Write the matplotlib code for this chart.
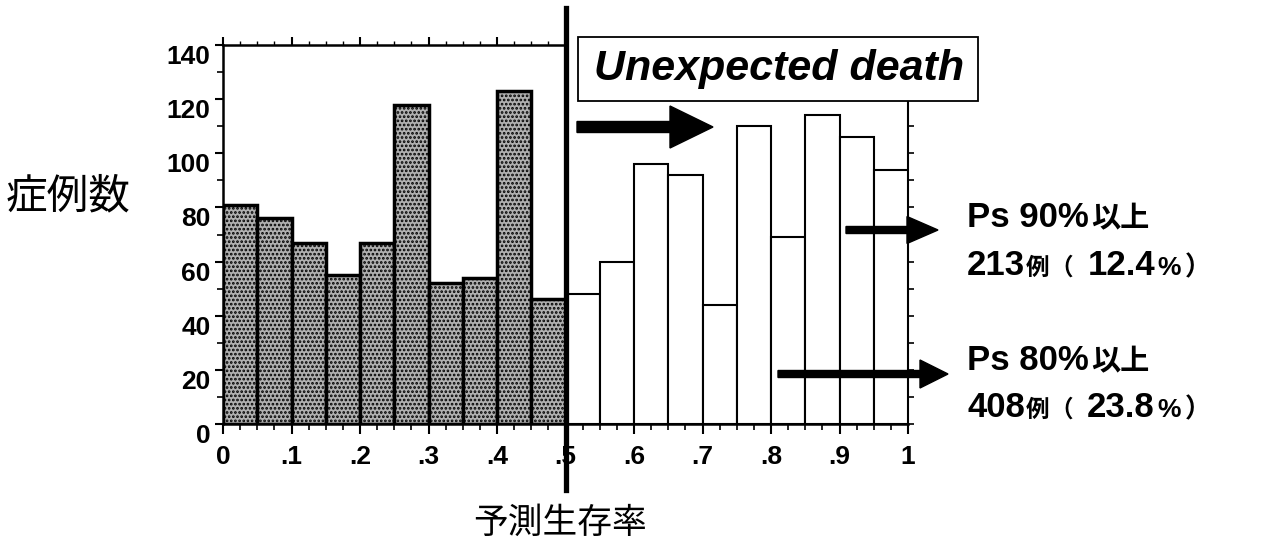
import matplotlib
matplotlib.use('Agg')
import matplotlib.pyplot as plt
from matplotlib.patches import FancyArrow, Rectangle
from matplotlib.transforms import IdentityTransform
from matplotlib.ticker import FixedLocator, MultipleLocator

# 予測生存率 (Ps) ごとの症例数, 0.05 刻み
bins_low = [0.00, 0.05, 0.10, 0.15, 0.20, 0.25, 0.30, 0.35, 0.40, 0.45]
counts_low = [81, 76, 67, 55, 67, 118, 52, 54, 123, 46]
bins_high = [0.50, 0.55, 0.60, 0.65, 0.70, 0.75, 0.80, 0.85, 0.90, 0.95]
counts_high = [48, 60, 96, 92, 44, 110, 69, 114, 106, 94]
bin_width = 0.05

x_ticks = [0, 0.1, 0.2, 0.3, 0.4, 0.5, 0.6, 0.7, 0.8, 0.9, 1.0]
x_labels = ['0', '.1', '.2', '.3', '.4', '.5', '.6', '.7', '.8', '.9', '1']
y_ticks = [0, 20, 40, 60, 80, 100, 120, 140]

LATIN = 'Liberation Sans'
CJK = 'Noto Sans CJK JP'

W, H = 1267, 545
fig = plt.figure(figsize=(W / 100, H / 100), dpi=100)
ax = fig.add_axes([223 / W, 121 / H, 685 / W, 379 / H])

plt.rcParams['hatch.linewidth'] = 1.3
ax.bar(bins_low, counts_low, width=bin_width, align='edge', facecolor='#b0b0b0',
       edgecolor='black', linewidth=2.5, hatch='....')
ax.bar(bins_high, counts_high, width=bin_width, align='edge', facecolor='white',
       edgecolor='black', linewidth=1.5)
ax.set_xlim(0, 1)
ax.set_ylim(0, 140)

# 軸と目盛り
for side in ['left', 'bottom']:
    ax.spines[side].set_linewidth(1.8)
ax.spines['top'].set_visible(False)
ax.spines['right'].set_visible(False)

ax.xaxis.set_major_locator(FixedLocator(x_ticks))
ax.set_xticklabels(x_labels, fontsize=19, fontweight='bold', family=LATIN)
ax.xaxis.set_minor_locator(MultipleLocator(0.025))
ax.set_yticks(y_ticks)
ax.set_yticklabels([str(v) for v in y_ticks], fontsize=19, fontweight='bold',
                   family=LATIN, va='top')
ax.yaxis.set_minor_locator(MultipleLocator(10))
ax.tick_params(axis='x', which='major', length=7, width=1.5, pad=8)
ax.tick_params(axis='x', which='minor', length=4, width=1.2)
ax.tick_params(axis='y', which='major', length=6, width=1.5, pad=3)
ax.tick_params(axis='y', which='minor', length=4, width=1.2)

top = ax.secondary_xaxis('top')
top.xaxis.set_major_locator(FixedLocator([0, 0.1, 0.2, 0.3, 0.4, 0.5]))
top.xaxis.set_minor_locator(FixedLocator([i * 0.025 for i in range(21)]))
top.set_xticklabels([])
top.spines['top'].set_bounds(0, 0.5)
top.spines['top'].set_linewidth(1.8)
top.tick_params(which='major', length=6, width=1.5)
top.tick_params(which='minor', length=3, width=1.0)

right = ax.secondary_yaxis('right')
right.yaxis.set_major_locator(FixedLocator(list(range(0, 120, 10))))
right.set_yticklabels([])
right.spines['right'].set_bounds(0, 119)
right.spines['right'].set_linewidth(1.5)
right.tick_params(length=4, width=1.2)

# Ps = 0.5 の太い縦線
ax.axvline(0.5, ymin=(424 - 490) / 379, ymax=(424 - 8) / 379, color='black',
           linewidth=3.8, clip_on=False, zorder=5)

# Unexpected death の枠
fig.add_artist(Rectangle((578, H - 101), 400, 64, transform=IdentityTransform(),
                         facecolor='white', edgecolor='black', linewidth=1.3))
fig.text(779, H - 69, 'Unexpected death', transform=IdentityTransform(),
         ha='center', va='center', fontsize=31, fontweight='bold',
         fontstyle='italic', family=LATIN)

# 矢印
fig.add_artist(FancyArrow(577, H - 127, 136, 0, width=11, head_width=42,
                          head_length=43, length_includes_head=True,
                          color='black', transform=IdentityTransform()))
fig.add_artist(FancyArrow(846, H - 230, 92, 0, width=7, head_width=27,
                          head_length=31, length_includes_head=True,
                          color='black', transform=IdentityTransform()))
fig.add_artist(FancyArrow(778, H - 374, 170, 0, width=7, head_width=28,
                          head_length=28, length_includes_head=True,
                          color='black', transform=IdentityTransform()))

# 右側の注記 (文字の大きさが混在するので左から順に並べる)
renderer = fig.canvas.get_renderer()


def put_line(x, y, segments):
    for s, size, fam, gap in segments:
        t = fig.text(x, H - y, s, transform=IdentityTransform(), fontsize=size,
                     fontweight='bold', family=fam, va='baseline', ha='left')
        x += t.get_window_extent(renderer).width + gap


def ps_block(y1, y2, ps_text, n_text, pct_text):
    put_line(967, y1, [(ps_text, 25, LATIN, 2), ('以上', 21, CJK, 0)])
    put_line(967, y2, [(n_text, 25, LATIN, 1), ('例', 17, CJK, 0),
                       ('（', 17, CJK, 14), (pct_text, 25, LATIN, 2),
                       ('%', 19, LATIN, 4), ('）', 19, CJK, 0)])


ps_block(227, 275, 'Ps 90%', '213', '12.4')
ps_block(370, 417, 'Ps 80%', '408', '23.8')

# 軸ラベル
fig.text(68, H - 197, '症例数', transform=IdentityTransform(), ha='center',
         va='center', fontsize=30, family=CJK)
fig.text(560, H - 523, '予測生存率', transform=IdentityTransform(), ha='center',
         va='center', fontsize=25, family=CJK)

fig.savefig('out.png', dpi=100)
